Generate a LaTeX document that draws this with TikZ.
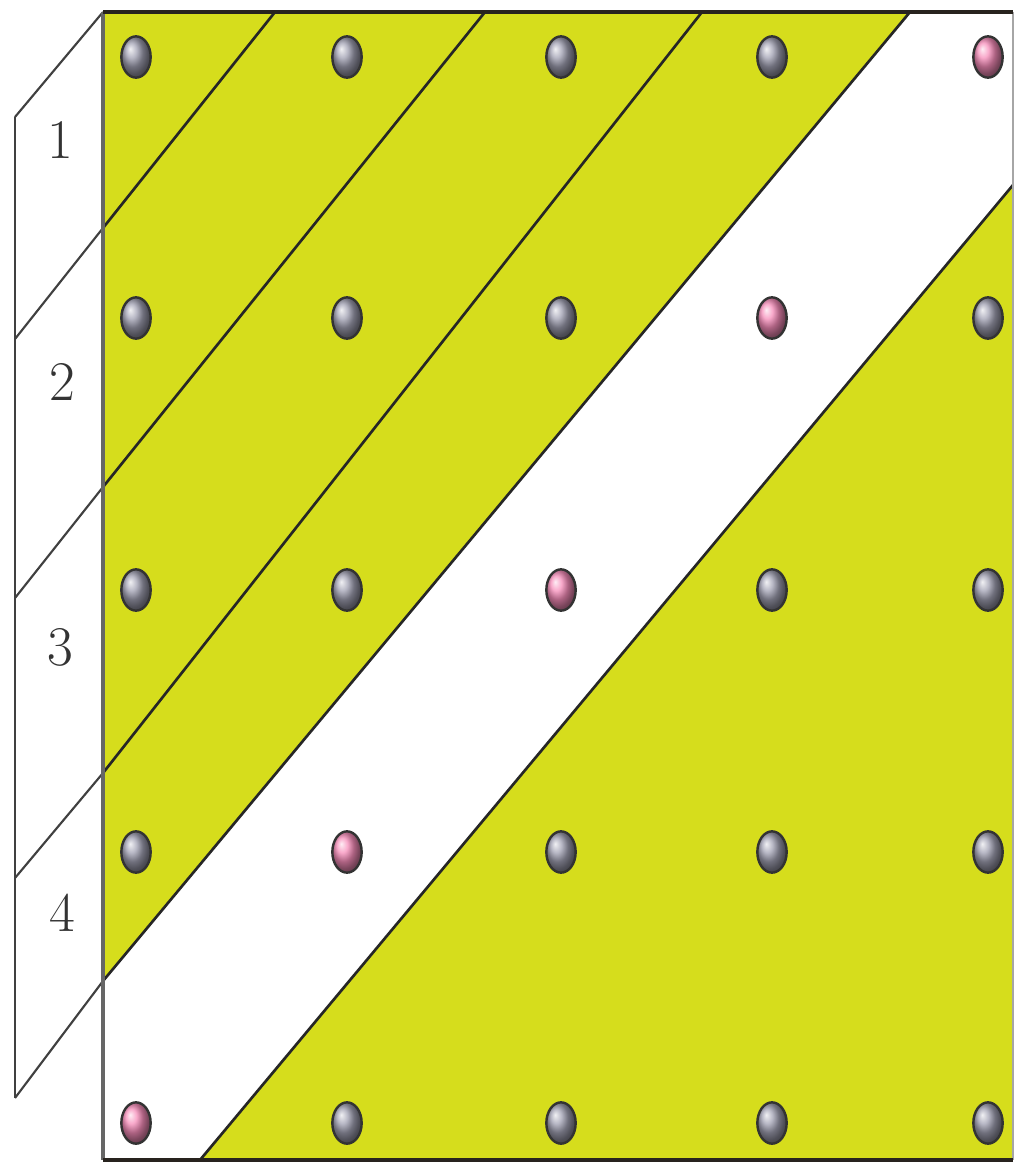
\documentclass[tikz,border=0pt]{standalone}
\usetikzlibrary{shapes.geometric}
\definecolor{leaf}{RGB}{214,221,28}
\definecolor{edge}{RGB}{40,35,30}
\definecolor{pinkdot}{RGB}{246,140,185}
\definecolor{greyball}{RGB}{160,160,178}
\tikzset{
  dotbase/.style={ellipse, minimum width=22, minimum height=31, inner sep=0pt, draw=black!80, line width=1.8},
  greydot/.style={dotbase, ball color=greyball},
  pinkball/.style={dotbase, ball color=pinkdot},
  stripline/.style={line width=1.6, draw=black!75},
  diag/.style={line width=2, draw=black!85},
  numlabel/.style={font=\fontsize{42}{42}\selectfont, text=black!80, inner sep=0pt}
}
\begin{document}
\begin{tikzpicture}[x=0.75pt,y=-0.75pt]
\useasboundingbox (0,0) rectangle (1015,1163);
% corners of main rectangle
\coordinate (TL) at (103,12);
\coordinate (TR) at (1013,12);
\coordinate (BR) at (1013,1160);
\coordinate (BL) at (103,1160);
% yellow background
\fill[leaf] (TL) rectangle (BR);
% white band
\fill[white] (910,12) -- (TR) -- (1013,185) -- (200,1160) -- (BL) -- (103,980) -- cycle;
% diagonal lines with their continuation into the strip
\coordinate (a0) at (15,117);
\coordinate (a1) at (15,339);
\coordinate (a2) at (15,598);
\coordinate (a3) at (15,878);
\coordinate (a4) at (15,1098);
\coordinate (t1) at (275,12);
\coordinate (t2) at (485,12);
\coordinate (t3) at (702,12);
\coordinate (t4) at (910,12);
\coordinate (l1) at (103,228);
\coordinate (l2) at (103,487);
\coordinate (l3) at (103,773);
\coordinate (l4) at (103,981);
\draw[stripline] (TL) -- (a0);
\draw[stripline] (l1) -- (a1);
\draw[stripline] (l2) -- (a2);
\draw[stripline] (l3) -- (a3);
\draw[stripline] (l4) -- (a4);
\draw[stripline] (a0) -- (a4);
\draw[diag] (t1) -- (l1);
\draw[diag] (t2) -- (l2);
\draw[diag] (t3) -- (l3);
\draw[diag] (t4) -- (l4);
\draw[diag] (1013,185) -- (200,1160);
% rectangle border
\draw[black!60, line width=3] (TL) -- (BL);
\draw[black!35, line width=1.5] (TR) -- (BR);
\draw[edge, line width=3.5] (TL) -- (TR);
\draw[edge, line width=3.5] (BL) -- (BR);
% labels
\node[numlabel] (n1) at (60,140) {1};
\node[numlabel] (n2) at (62,382) {2};
\node[numlabel] (n3) at (60,647) {3};
\node[numlabel] (n4) at (62,913) {4};
% dots
\foreach \c/\x in {1/136,2/347,3/561,4/772,5/988}{
  \foreach \r/\y in {1/57,2/318,3/590,4/852,5/1123}{
    \pgfmathtruncatemacro{\s}{\c+\r}
    \ifnum\s=6
      \node[pinkball] (d\r\c) at (\x,\y) {};
    \else
      \node[greydot] (d\r\c) at (\x,\y) {};
    \fi
  }
}
\end{tikzpicture}
\end{document}
